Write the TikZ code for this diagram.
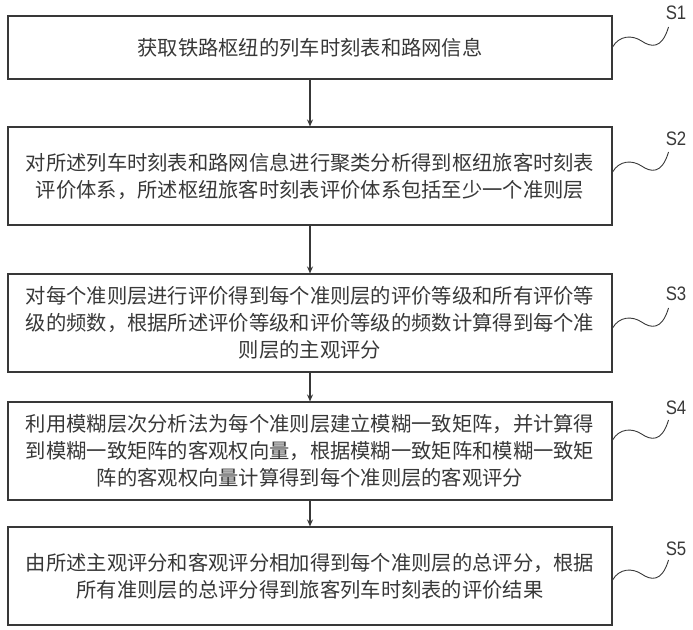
\documentclass[tikz,border=0pt]{standalone}
\usepackage{fontspec}
\setmainfont{Liberation Sans}
\newfontfamily\cjk{Noto Sans CJK SC}
\usetikzlibrary{arrows.meta}
\definecolor{ink}{HTML}{383838}
\tikzset{
  stepbox/.style={draw=ink, line width=1.1pt, minimum width=604pt, inner sep=0pt,
    align=center, text=ink, font=\cjk\fontsize{20.3}{27}\selectfont},
  flow/.style={draw=ink, line width=1.1pt, -{Stealth[length=7pt,width=6pt]}},
  wave/.style={draw=ink, line width=0.9pt},
  tag/.style={text=ink, inner sep=0pt, font=\fontsize{19.5}{20}\selectfont, xscale=0.86}
}
\begin{document}
\begin{tikzpicture}[x=1pt,y=-1pt]
\useasboundingbox (0,0) rectangle (693,629);
\node[stepbox, minimum height=63pt] (b1) at (310,47.5) {获取铁路枢纽的列车时刻表和路网信息};
\node[stepbox, minimum height=98pt] (b2) at (310,176) {对所述列车时刻表和路网信息进行聚类分析得到枢纽旅客时刻表\\评价体系，所述枢纽旅客时刻表评价体系包括至少一个准则层};
\node[stepbox, minimum height=98pt] (b3) at (310,323) {对每个准则层进行评价得到每个准则层的评价等级和所有评价等\\级的频数，根据所述评价等级和评价等级的频数计算得到每个准\\则层的主观评分};
\node[stepbox, minimum height=98pt] (b4) at (310,451) {利用模糊层次分析法为每个准则层建立模糊一致矩阵，并计算得\\到模糊一致矩阵的客观权向量，根据模糊一致矩阵和模糊一致矩\\阵的客观权向量计算得到每个准则层的客观评分};
\node[stepbox, minimum height=98pt] (b5) at (310,576) {由所述主观评分和客观评分相加得到每个准则层的总评分，根据\\所有准则层的总评分得到旅客列车时刻表的评价结果};
\draw[flow] (b1) -- (b2);
\draw[flow] (b2) -- (b3);
\draw[flow] (b3) -- (b4);
\draw[flow] (b4) -- (b5);
\node[tag] (s1) at (676,13) {S1};
\node[tag] (s2) at (676,139) {S2};
\node[tag] (s3) at (676,294) {S3};
\node[tag] (s4) at (676,408) {S4};
\node[tag] (s5) at (676,549) {S5};
\coordinate (w1) at (b1.east |- 0,47);
\coordinate (w2) at (b2.east |- 0,172);
\coordinate (w3) at (b3.east |- 0,328);
\coordinate (w4) at (b4.east |- 0,440);
\coordinate (w5) at (b5.east |- 0,580);
\foreach \i in {1,...,5}{
  \draw[wave] (w\i) .. controls +(7,-12) and +(-9,-6) .. ++(29,-6)
    .. controls +(9,6) and +(-7,23) .. ++(27,-14);
}
\end{tikzpicture}
\end{document}
